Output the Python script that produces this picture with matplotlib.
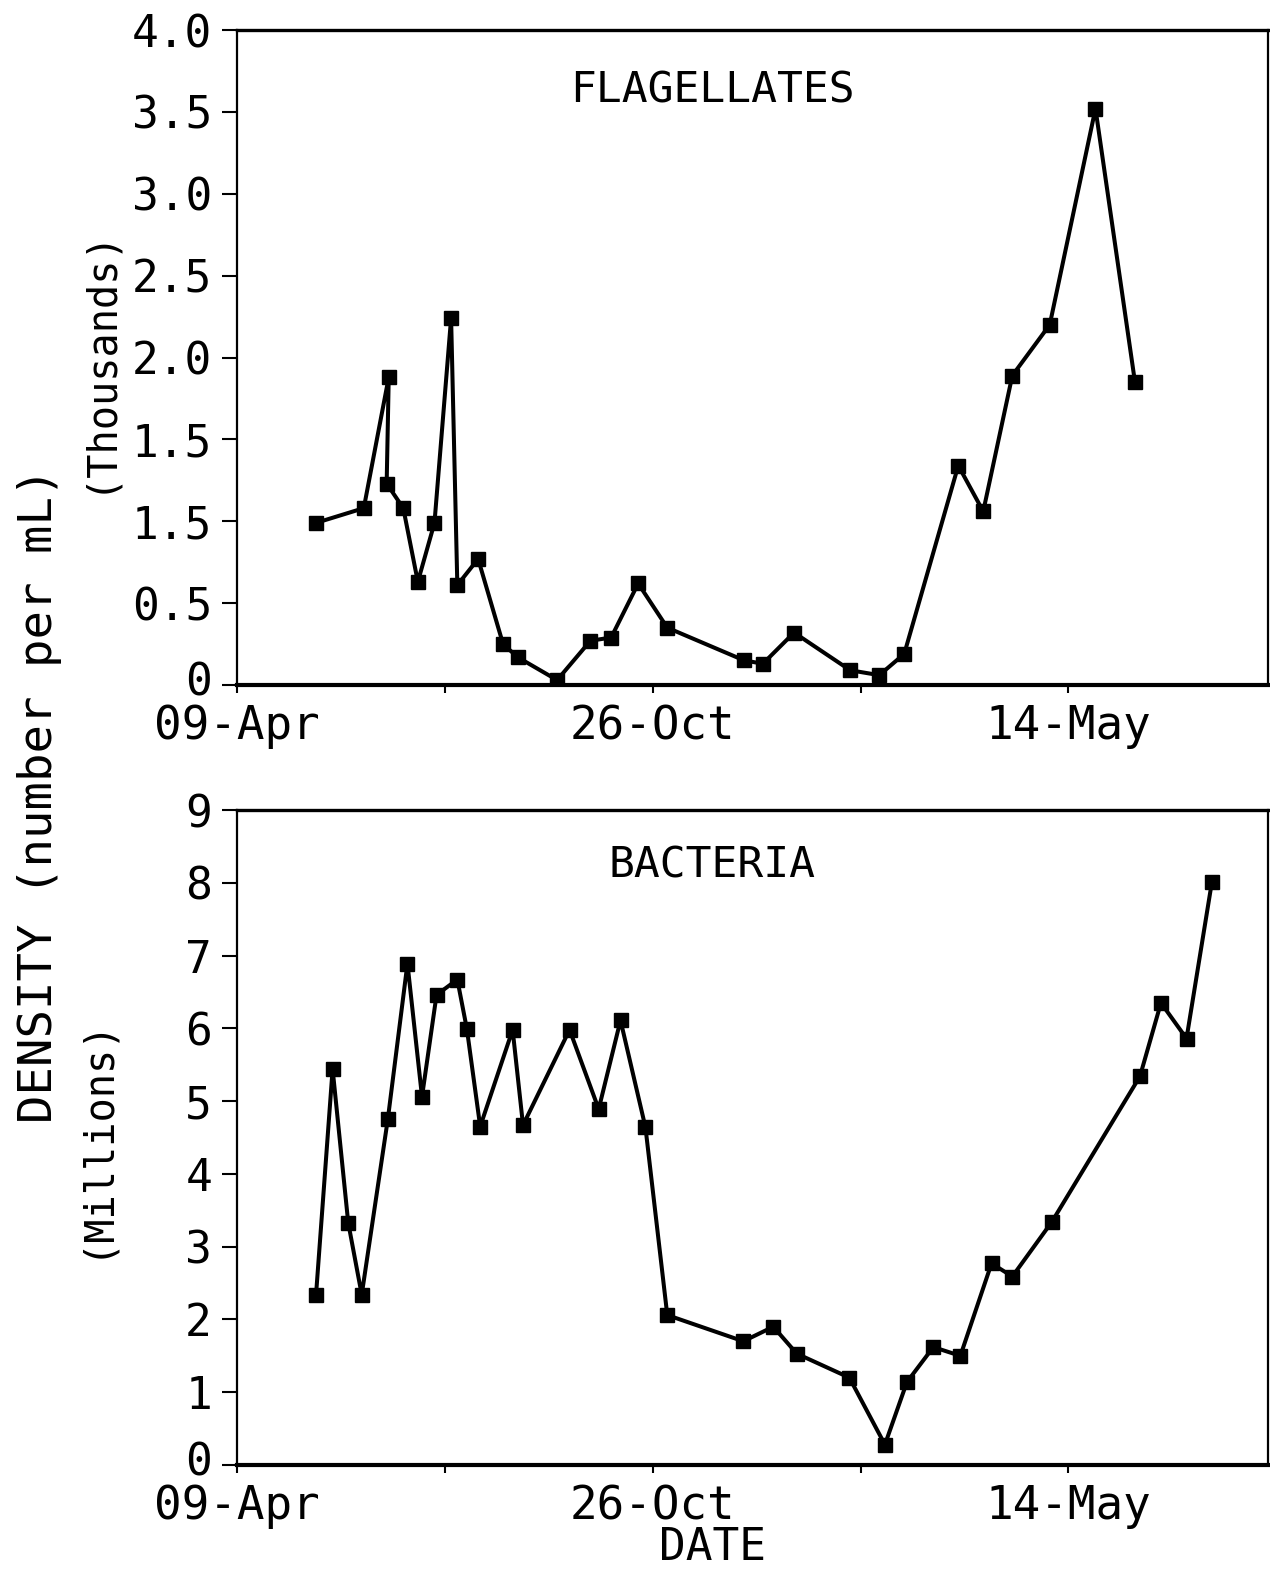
import numpy as np
import matplotlib
matplotlib.use('Agg')
import matplotlib.pyplot as plt
from matplotlib.transforms import ScaledTranslation

plt.rcParams['font.family'] = 'DejaVu Sans Mono'

# days counted from 09-Apr
flag_days = [38, 61, 73, 72, 80, 87, 95, 103, 106, 116, 128, 135, 154, 170, 180,
             193, 207, 244, 253, 268, 295, 309, 321, 347, 359, 373, 391, 413, 432]
flag_vals = [0.99, 1.08, 1.88, 1.23, 1.08, 0.63, 0.99, 2.24, 0.61, 0.77, 0.25, 0.17,
             0.03, 0.27, 0.29, 0.62, 0.35, 0.15, 0.13, 0.32, 0.09, 0.06, 0.19, 1.34,
             1.06, 1.89, 2.20, 3.52, 1.85]

bact_days = [38, 46, 53.5, 60, 72.6, 82, 89, 96, 106, 110.6, 117, 132.6, 137.6, 160,
             174, 184.5, 196.5, 207, 243.6, 258, 269.3, 294.6, 311.7, 322.3, 335, 348,
             363, 373, 392, 434.4, 444.5, 456.8, 469]
bact_vals = [2.33, 5.44, 3.33, 2.34, 4.76, 6.89, 5.06, 6.46, 6.67, 5.99, 4.65, 5.98,
             4.67, 5.98, 4.89, 6.11, 4.64, 2.06, 1.70, 1.90, 1.53, 1.20, 0.28, 1.14,
             1.62, 1.50, 2.77, 2.59, 3.34, 5.34, 6.35, 5.86, 8.01]

date_ticks = [0, 200, 400]
date_labels = ['09-Apr', '26-Oct', '14-May']
minor_ticks = [100, 300]

flag_yticks = [0, 0.5, 1.0, 1.5, 2.0, 2.5, 3.0, 3.5, 4.0]
flag_ylabels = ['0', '0.5', '1.5', '1.5', '2.0', '2.5', '3.0', '3.5', '4.0']
bact_yticks = list(range(10))
bact_ylabels = [str(v) for v in bact_yticks]

W, H = 1270, 1574
fig = plt.figure(figsize=(W / 100, H / 100), dpi=100)

def px_axes(left, top, right, bottom):
    return fig.add_axes([left / W, 1 - bottom / H, (right - left) / W, (bottom - top) / H])

ax1 = px_axes(237, 30, 1268, 685)
ax2 = px_axes(237, 810, 1268, 1465)

panels = [
    (ax1, flag_days, flag_vals, (0, 4.0), flag_yticks, flag_ylabels, 'FLAGELLATES', 0.908),
    (ax2, bact_days, bact_vals, (0, 9), bact_yticks, bact_ylabels, 'BACTERIA', 0.916),
]

for ax, xs, ys, ylim, yt, yl, name, ty in panels:
    ax.plot(xs, ys, color='black', lw=2.9, marker='s', ms=10,
            markerfacecolor='black', markeredgecolor='black', solid_joinstyle='miter')
    ax.set_xlim(0, 496)
    ax.set_ylim(*ylim)
    ax.set_xticks(date_ticks + minor_ticks)
    ax.set_xticklabels(date_labels + ['', ''], fontsize=33)
    ax.set_yticks(yt)
    ax.set_yticklabels(yl, fontsize=32)
    ax.tick_params(axis='y', direction='out', length=11, width=1.5, pad=7)
    ax.tick_params(axis='x', direction='out', length=6, width=1.5, pad=8)
    ax.spines['left'].set_linewidth(1.6)
    ax.spines['bottom'].set_linewidth(3)
    ax.spines['top'].set_linewidth(2.4)
    ax.spines['right'].set_linewidth(1.6)
    # the zero label sits just above the date labels
    zero = ax.get_yticklabels()[0]
    zero.set_transform(zero.get_transform() + ScaledTranslation(0, 6 / 100, fig.dpi_scale_trans))
    ax.text(0.461, ty, name, transform=ax.transAxes, ha='center', va='center',
            fontsize=31)

fig.text(40 / W, 1 - 795 / H, 'DENSITY (number per mL)', rotation=90,
         ha='center', va='center', fontsize=34)
fig.text(98 / W, 1 - 360 / H, '(Thousands)', rotation=90,
         ha='center', va='center', fontsize=29)
fig.text(95 / W, 1 - 1137 / H, '(Millions)', rotation=90,
         ha='center', va='center', fontsize=29)
fig.text(712 / W, 1 - 1547 / H, 'DATE', ha='center', va='center', fontsize=32)

fig.savefig('out.png', dpi=100)
